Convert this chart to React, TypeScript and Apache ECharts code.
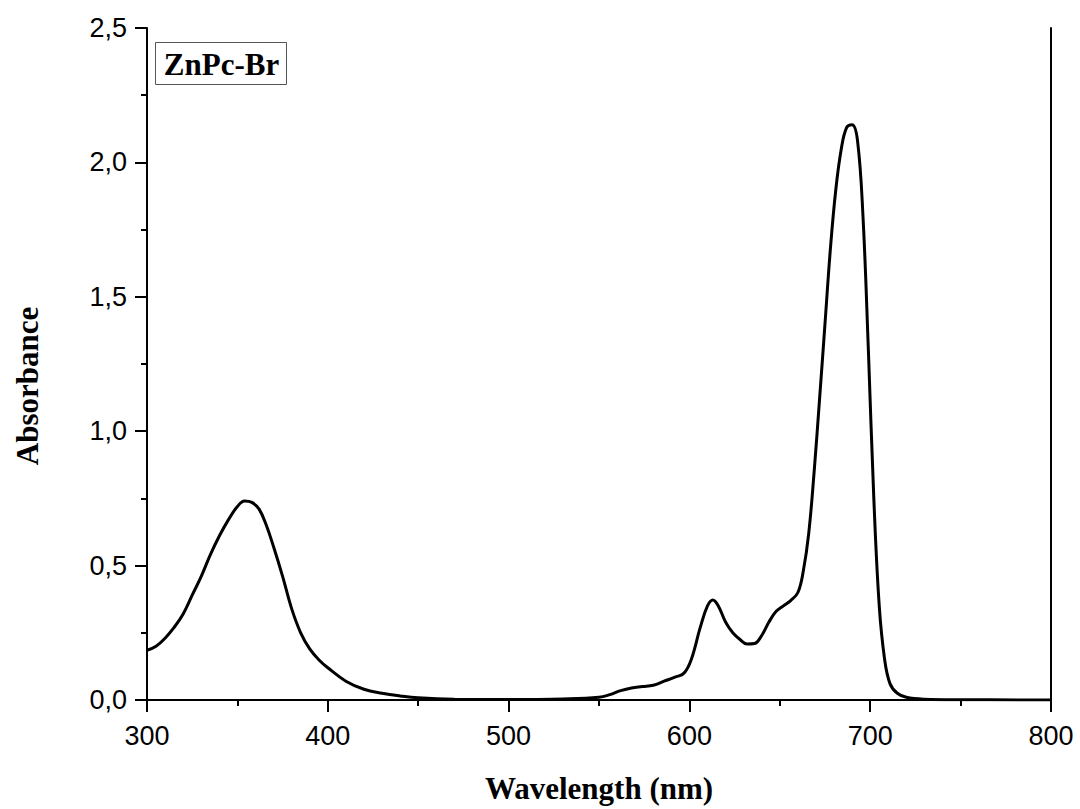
import React, { useEffect, useRef } from "react";
import * as echarts from "echarts";

const wavelengths = [
  300, 305, 310, 315, 320, 325, 330, 335, 340, 345, 350, 354, 358, 362, 366, 370, 375, 380, 385, 390,
  395, 400, 410, 420, 430, 440, 450, 470, 500, 530, 550, 556, 562, 568, 574, 580, 586, 592, 597,
  601, 606, 610, 613, 616, 620, 624, 628, 632, 636, 640, 644, 648, 652, 656, 660, 663, 666, 669,
  672, 675, 678, 681, 684, 687, 690, 693, 696, 699, 702, 705, 708, 711, 715, 720, 730, 750, 800,
];
const absorbance = [
  0.185, 0.2, 0.23, 0.27, 0.32, 0.39, 0.46, 0.54, 0.61, 0.67, 0.72, 0.74, 0.735, 0.71, 0.65, 0.57,
  0.46, 0.34, 0.25, 0.19, 0.15, 0.12, 0.07, 0.04, 0.025, 0.015, 0.008, 0.003, 0.002, 0.004, 0.01,
  0.02, 0.035, 0.045, 0.05, 0.055, 0.07, 0.085, 0.1, 0.15, 0.27, 0.35, 0.372, 0.35, 0.29, 0.25,
  0.225, 0.208, 0.21, 0.24, 0.29, 0.33, 0.35, 0.37, 0.4, 0.48, 0.62, 0.85, 1.12, 1.4, 1.68, 1.9,
  2.05, 2.13, 2.14, 2.08, 1.8, 1.3, 0.75, 0.35, 0.15, 0.06, 0.025, 0.01, 0.003, 0.001, 0,
];
const xTicks = [300, 400, 500, 600, 700, 800];
const yTicks = [0, 0.5, 1.0, 1.5, 2.0, 2.5];
const legendLabel = "ZnPc-Br";
const xName = "Wavelength (nm)";
const yName = "Absorbance";

export default function App() {
  const ref = useRef<HTMLDivElement>(null);
  useEffect(() => {
    if (!ref.current) return;
    const chart = echarts.init(ref.current, null, { renderer: "svg" });
    const data = wavelengths.map((w, i) => [w, absorbance[i]]);
    const axisLine = { show: true, lineStyle: { color: "#000", width: 2 } };
    const major = { show: true, inside: false, length: 12, lineStyle: { color: "#000", width: 2 } };
    const minor = { show: true, splitNumber: 2, length: 6, lineStyle: { color: "#000", width: 2 } };
    const labelFont = "'Liberation Sans', Arial, sans-serif";
    const serif = "'Liberation Serif', 'Times New Roman', serif";
    chart.setOption({
      animation: false,
      backgroundColor: "#fff",
      grid: { left: 147, right: 29, top: 28, bottom: 109, containLabel: false },
      xAxis: [
        {
          type: "value",
          min: xTicks[0],
          max: xTicks[xTicks.length - 1],
          interval: 100,
          position: "bottom",
          axisLine,
          axisTick: major,
          minorTick: minor,
          splitLine: { show: false },
          minorSplitLine: { show: false },
          axisLabel: { color: "#000", fontSize: 27, fontFamily: labelFont, margin: 22 },
          name: xName,
          nameLocation: "middle",
          nameGap: 73,
          nameTextStyle: { color: "#000", fontSize: 31, fontWeight: "bold", fontFamily: serif },
        },
        {
          type: "value",
          min: xTicks[0],
          max: xTicks[xTicks.length - 1],
          position: "top",
          axisLine,
          axisTick: { show: false },
          axisLabel: { show: false },
          splitLine: { show: false },
        },
      ],
      yAxis: [
        {
          type: "value",
          min: yTicks[0],
          max: yTicks[yTicks.length - 1],
          interval: 0.5,
          position: "left",
          axisLine,
          axisTick: major,
          minorTick: minor,
          splitLine: { show: false },
          minorSplitLine: { show: false },
          axisLabel: {
            color: "#000",
            fontSize: 27,
            fontFamily: labelFont,
            margin: 20,
            formatter: (v: number) => v.toFixed(1).replace(".", ","),
          },
        },
        {
          type: "value",
          min: yTicks[0],
          max: yTicks[yTicks.length - 1],
          position: "right",
          axisLine,
          axisTick: { show: false },
          axisLabel: { show: false },
          splitLine: { show: false },
        },
      ],
      series: [
        {
          type: "line",
          data,
          smooth: 0.4,
          symbol: "none",
          lineStyle: { color: "#000", width: 3 },
          xAxisIndex: 0,
          yAxisIndex: 0,
        },
      ],
      graphic: [
        {
          type: "text",
          x: 27,
          y: 386,
          rotation: Math.PI / 2,
          style: {
            text: yName,
            fill: "#000",
            font: `bold 31px ${serif}`,
            align: "center",
            verticalAlign: "middle",
          },
        },
        {
          type: "group",
          left: 155,
          top: 42,
          children: [
            {
              type: "rect",
              shape: { x: 0, y: 0, width: 131, height: 42 },
              style: { fill: "#fff", stroke: "#555", lineWidth: 1 },
            },
            {
              type: "text",
              x: 66,
              y: 22,
              style: {
                text: legendLabel,
                fill: "#000",
                font: `bold 31px ${serif}`,
                align: "center",
                verticalAlign: "middle",
              },
            },
          ],
        },
      ],
    });
    return () => chart.dispose();
  }, []);
  return <div ref={ref} style={{ width: 1080, height: 809, position: "absolute", left: 0, top: 0 }} />;
}
